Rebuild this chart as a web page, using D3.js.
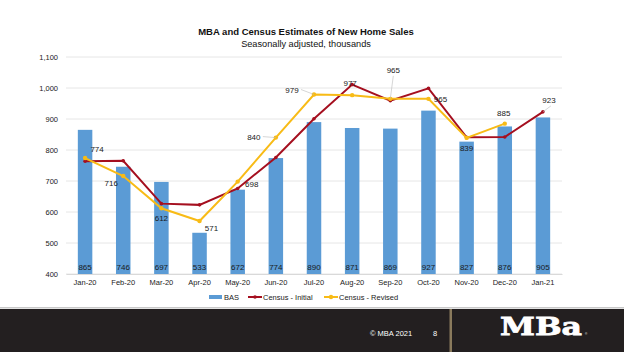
<!DOCTYPE html>
<html lang="en">
<head>
    <meta charset="UTF-8">
    <title>MBA and Census Estimates of New Home Sales</title>
    <script src="https://d3js.org/d3.v7.min.js"></script>
    <style>
        body { margin: 0; background: #fff; font-family: "Liberation Sans", Arial, sans-serif; }
        svg { display: block; }
    </style>
</head>
<body>
    <div id="chart"></div>
    <script>
        // Data
        const months = ["Jan-20", "Feb-20", "Mar-20", "Apr-20", "May-20", "Jun-20", "Jul-20",
                        "Aug-20", "Sep-20", "Oct-20", "Nov-20", "Dec-20", "Jan-21"];
        const bas = [865, 746, 697, 533, 672, 774, 890, 871, 869, 927, 827, 876, 905];
        const censusInitial = [764, 765, 627, 623, 676, 776, 901, 1011, 959, 999, 841, 842, 923];
        const censusRevised = [774, 716, 612, 571, 698, 840, 979, 977, 965, 965, 839, 885];
        const yTicks = [400, 500, 600, 700, 800, 900, 1000, 1100];

        // label offsets for the revised series (+ Jan-21 initial)
        const revisedLabelPos = [
          { dx: 12, dy: -6, anchor: "middle" },
          { dx: -12, dy: 10, anchor: "middle" },
          { dx: 0, dy: 13, anchor: "middle" },
          { dx: 12, dy: 10, anchor: "middle" },
          { dx: 14, dy: 5, anchor: "middle" },
          { dx: -22, dy: 2, anchor: "middle", leader: true },
          { dx: -22, dy: -2, anchor: "middle", leader: true },
          { dx: -2, dy: -9, anchor: "middle" },
          { dx: 3, dy: -26, anchor: "middle", leader: true },
          { dx: 12, dy: 3, anchor: "middle" },
          { dx: 0, dy: 13, anchor: "middle" },
          { dx: -1, dy: -8, anchor: "middle" }
        ];

        const W = 624, H = 352;
        const margin = { top: 57, right: 62, bottom: 78, left: 66 };
        const width = W - margin.left - margin.right;
        const height = H - margin.top - margin.bottom;

        const colors = { bas: "#5b9bd5", initial: "#a50f1f", revised: "#f8bb16" };

        const root = d3.select("#chart").append("svg")
          .attr("width", W).attr("height", H);

        // titles
        root.append("text").attr("x", 306).attr("y", 35)
          .attr("text-anchor", "middle").attr("font-size", 9.5).attr("font-weight", "bold")
          .attr("fill", "#111").text("MBA and Census Estimates of New Home Sales");
        root.append("text").attr("x", 306).attr("y", 47)
          .attr("text-anchor", "middle").attr("font-size", 9.2)
          .attr("fill", "#111").text("Seasonally adjusted, thousands");

        const svg = root.append("g")
          .attr("transform", `translate(${margin.left},${margin.top})`);

        const x = d3.scaleBand().domain(months).range([0, width]).paddingInner(0.62).paddingOuter(0.31);
        const y = d3.scaleLinear().domain([400, 1100]).range([height, 0]);
        const cx = m => x(m) + x.bandwidth() / 2;

        // grid
        svg.append("g").selectAll("line").data(yTicks).join("line")
          .attr("x1", 0).attr("x2", width)
          .attr("y1", d => y(d)).attr("y2", d => y(d))
          .attr("stroke", "#e6e6e6").attr("stroke-width", 1);

        // y axis
        const yAxis = svg.append("g")
          .call(d3.axisLeft(y).tickValues(yTicks).tickFormat(d3.format(",")).tickSize(0).tickPadding(8));
        yAxis.select(".domain").remove();
        yAxis.selectAll("text").attr("font-size", 7.5).attr("fill", "#222")
          .attr("font-family", "Liberation Sans, Arial, sans-serif");

        // bars
        svg.append("g").selectAll("rect").data(bas).join("rect")
          .attr("x", (d, i) => x(months[i]))
          .attr("y", d => y(d))
          .attr("width", x.bandwidth())
          .attr("height", d => height - y(d))
          .attr("fill", colors.bas);

        svg.append("g").selectAll("text").data(bas).join("text")
          .attr("x", (d, i) => cx(months[i]))
          .attr("y", height - 4)
          .attr("text-anchor", "middle").attr("font-size", 8).attr("fill", "#1a1a1a")
          .text(d => d);

        // x axis
        const xAxis = svg.append("g").attr("transform", `translate(0,${height})`)
          .call(d3.axisBottom(x).tickSize(0).tickPadding(6));
        xAxis.select(".domain").attr("stroke", "#d9d9d9");
        xAxis.selectAll("text").attr("font-size", 7.5).attr("fill", "#222")
          .attr("font-family", "Liberation Sans, Arial, sans-serif");

        // lines
        const line = d3.line().x((d, i) => cx(months[i])).y(d => y(d));

        svg.append("path").datum(censusInitial)
          .attr("fill", "none").attr("stroke", colors.initial).attr("stroke-width", 2)
          .attr("d", line);
        svg.append("g").selectAll("circle").data(censusInitial).join("circle")
          .attr("cx", (d, i) => cx(months[i])).attr("cy", d => y(d)).attr("r", 1.8)
          .attr("fill", colors.initial);

        svg.append("path").datum(censusRevised)
          .attr("fill", "none").attr("stroke", colors.revised).attr("stroke-width", 2)
          .attr("d", line);
        svg.append("g").selectAll("circle").data(censusRevised).join("circle")
          .attr("cx", (d, i) => cx(months[i])).attr("cy", d => y(d)).attr("r", 2.2)
          .attr("fill", colors.revised);

        // data labels for revised line
        const labels = svg.append("g");
        censusRevised.forEach((v, i) => {
          const p = revisedLabelPos[i];
          const px = cx(months[i]), py = y(v);
          if (p.leader) {
            const lx = p.dx < 0 ? px + p.dx + 9 : px + p.dx;
            const ly = p.dx < 0 ? py + p.dy - 3 : py + p.dy + 3;
            labels.append("line").attr("x1", lx).attr("y1", ly).attr("x2", px).attr("y2", py)
              .attr("stroke", "#bbb").attr("stroke-width", 0.6);
          }
          labels.append("text").attr("x", px + p.dx).attr("y", py + p.dy)
            .attr("text-anchor", p.anchor).attr("font-size", 8).attr("fill", "#1a1a1a")
            .text(v);
        });
        // last initial value label
        const lastI = censusInitial.length - 1;
        const lpx = cx(months[lastI]), lpy = y(censusInitial[lastI]);
        labels.append("line").attr("x1", lpx).attr("y1", lpy).attr("x2", lpx + 8).attr("y2", lpy - 6)
          .attr("stroke", "#bbb").attr("stroke-width", 0.6);
        labels.append("text").attr("x", lpx + 6).attr("y", lpy - 9)
          .attr("text-anchor", "middle").attr("font-size", 8).attr("fill", "#1a1a1a")
          .text(censusInitial[lastI]);

        // legend
        const legend = root.append("g").attr("transform", "translate(209, 297)");
        legend.append("rect").attr("x", 0).attr("y", -2).attr("width", 13).attr("height", 4).attr("fill", colors.bas);
        legend.append("text").attr("x", 15).attr("y", 3).attr("font-size", 7.5).attr("fill", "#222").text("BAS");
        legend.append("line").attr("x1", 39).attr("x2", 53).attr("y1", 0).attr("y2", 0)
          .attr("stroke", colors.initial).attr("stroke-width", 2);
        legend.append("circle").attr("cx", 46).attr("cy", 0).attr("r", 1.8).attr("fill", colors.initial);
        legend.append("text").attr("x", 54).attr("y", 3).attr("font-size", 7.5).attr("fill", "#222").text("Census - Initial");
        legend.append("line").attr("x1", 115).attr("x2", 129).attr("y1", 0).attr("y2", 0)
          .attr("stroke", colors.revised).attr("stroke-width", 2);
        legend.append("circle").attr("cx", 122).attr("cy", 0).attr("r", 2.2).attr("fill", colors.revised);
        legend.append("text").attr("x", 130).attr("y", 3).attr("font-size", 7.5).attr("fill", "#222").text("Census - Revised");

        // footer band
        root.append("rect").attr("x", 0).attr("y", 307).attr("width", W).attr("height", 1.5).attr("fill", "#c8c8c8");
        root.append("rect").attr("x", 0).attr("y", 309).attr("width", W).attr("height", H - 309).attr("fill", "#231f20");
        root.append("rect").attr("x", 449.5).attr("y", 309).attr("width", 2.5).attr("height", H - 309).attr("fill", "#8a7a5c");
        root.append("text").attr("x", 370).attr("y", 336).attr("font-size", 7.5).attr("fill", "#fff").text("© MBA 2021");
        root.append("text").attr("x", 433).attr("y", 336).attr("font-size", 7.5).attr("fill", "#fff").text("8");
        root.append("text").attr("x", 541).attr("y", 335).attr("text-anchor", "middle")
          .attr("font-family", "DejaVu Serif, Liberation Serif, serif").attr("font-weight", "bold")
          .attr("font-size", 25).attr("fill", "#fff").attr("stroke", "#fff").attr("stroke-width", 0.8)
          .attr("textLength", 82).attr("lengthAdjust", "spacingAndGlyphs")
          .text("MBa");
        root.append("text").attr("x", 585).attr("y", 335).attr("font-size", 3).attr("fill", "#fff").text("®");
    </script>
</body>
</html>
